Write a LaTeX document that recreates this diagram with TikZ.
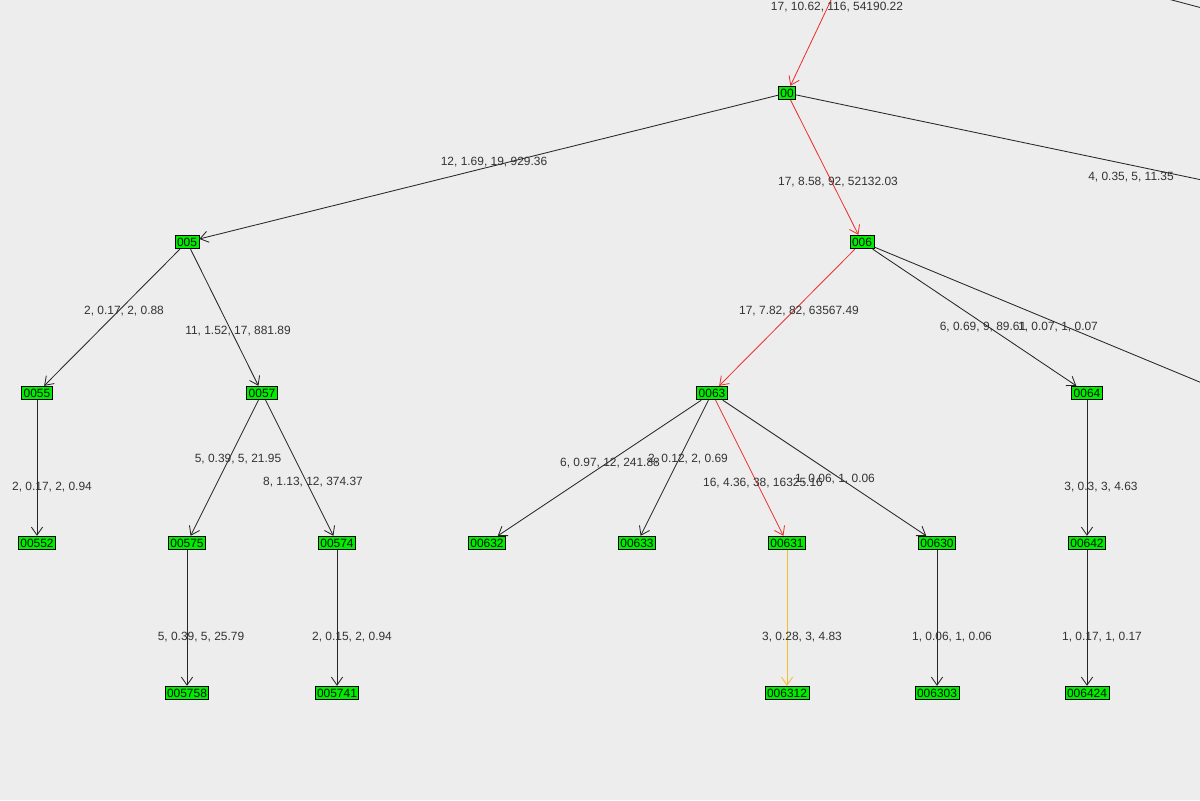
\documentclass[tikz,border=0pt]{standalone}
\usepackage{fontspec}
\setmainfont{Liberation Sans}
\usetikzlibrary{arrows.meta}
\definecolor{gold}{RGB}{240,190,50}

\begin{document}
\begin{tikzpicture}[x = 0.025cm, y = -0.025cm, line width = 0.6pt,
	 every node/.style = {font = \fontsize{8.5}{10}\selectfont, text = black!80},
	 vertex/.style = {draw = black, fill = green!93!black!100, inner xsep = 1.4pt, inner ysep = 1.8pt, text = black!80!green!30!black},
	 edge/.style = {draw = black!85, -{Straight Barb[angle = 70:7pt]}},
	 hot/.style = {draw = red!90!black!80, -{Straight Barb[angle = 70:7pt]}},
	 warm/.style = {draw = gold, -{Straight Barb[angle = 70:7pt]}},
	 weight/.style = {fill = none, inner sep = 0pt}]
	 \fill[black!7] (0, 0) rectangle (1200, 800);
	 \useasboundingbox (0, 0) rectangle (1200, 800);
	 
	 % tree levels
	 \node[vertex] (n00) at (787, 93) {00};
	 \node[vertex] (n005) at (187, 242) {005};
	 \node[vertex] (n006) at (862, 242) {006};
	 \node[vertex] (n0055) at (37, 393) {0055};
	 \node[vertex] (n0057) at (262, 393) {0057};
	 \node[vertex] (n0063) at (712, 393) {0063};
	 \node[vertex] (n0064) at (1087, 393) {0064};
	 \node[vertex] (n00552) at (37, 543) {00552};
	 \node[vertex] (n00575) at (187, 543) {00575};
	 \node[vertex] (n00574) at (337, 543) {00574};
	 \node[vertex] (n00632) at (487, 543) {00632};
	 \node[vertex] (n00633) at (637, 543) {00633};
	 \node[vertex] (n00631) at (787, 543) {00631};
	 \node[vertex] (n00630) at (937, 543) {00630};
	 \node[vertex] (n00642) at (1087, 543) {00642};
	 \node[vertex] (n005758) at (187, 693) {005758};
	 \node[vertex] (n005741) at (337, 693) {005741};
	 \node[vertex] (n006312) at (787, 693) {006312};
	 \node[vertex] (n006303) at (937, 693) {006303};
	 \node[vertex] (n006424) at (1087, 693) {006424};
	 
	 % edges leaving the frame
	 \coordinate (top) at (832, -2);
	 \coordinate (farright) at (1202, 180);
	 \coordinate (farlow) at (1202, 383);
	 \coordinate (topright) at (1168, -1);
	 \coordinate (topedge) at (1202, 8);
	 \draw[hot] (top) -- (n00);
	 \draw[black!85] (n00) -- (farright);
	 \draw[black!85] (n006) -- (farlow);
	 \draw[black!85] (topright) -- (topedge);
	 
	 \draw[edge] (n00) -- (n005);
	 \draw[hot] (n00) -- (n006);
	 \draw[edge] (n005) -- (n0055);
	 \draw[edge] (n005) -- (n0057);
	 \draw[hot] (n006) -- (n0063);
	 \draw[edge] (n006) -- (n0064);
	 \draw[edge] (n0055) -- (n00552);
	 \draw[edge] (n0057) -- (n00575);
	 \draw[edge] (n0057) -- (n00574);
	 \draw[edge] (n0063) -- (n00632);
	 \draw[edge] (n0063) -- (n00633);
	 \draw[hot] (n0063) -- (n00631);
	 \draw[edge] (n0063) -- (n00630);
	 \draw[edge] (n0064) -- (n00642);
	 \draw[edge] (n00575) -- (n005758);
	 \draw[edge] (n00574) -- (n005741);
	 \draw[warm] (n00631) -- (n006312);
	 \draw[edge] (n00630) -- (n006303);
	 \draw[edge] (n00642) -- (n006424);
	 
	 % edge weights
	 \node[weight] (w1) at (837, 7) {17, 10.62, 116, 54190.22};
	 \node[weight] (w2) at (1131, 177) {4, 0.35, 5, 11.35};
	 \node[weight] (w3) at (494, 162) {12, 1.69, 19, 929.36};
	 \node[weight] (w4) at (838, 182) {17, 8.58, 92, 52132.03};
	 \node[weight] (w5) at (124, 311) {2, 0.17, 2, 0.88};
	 \node[weight] (w6) at (238, 331) {11, 1.52, 17, 881.89};
	 \node[weight] (w7) at (799, 311) {17, 7.82, 82, 63567.49};
	 \node[weight] (w8) at (983, 327) {6, 0.69, 9, 89.61};
	 \node[weight] (w9) at (1058, 327) {1, 0.07, 1, 0.07};
	 \node[weight] (w10) at (52, 487) {2, 0.17, 2, 0.94};
	 \node[weight] (w11) at (238, 459) {5, 0.39, 5, 21.95};
	 \node[weight] (w12) at (313, 482) {8, 1.13, 12, 374.37};
	 \node[weight] (w13) at (610, 463) {6, 0.97, 12, 241.88};
	 \node[weight] (w14) at (688, 459) {2, 0.12, 2, 0.69};
	 \node[weight] (w15) at (763, 483) {16, 4.36, 38, 16325.16};
	 \node[weight] (w16) at (835, 479) {1, 0.06, 1, 0.06};
	 \node[weight] (w17) at (1101, 487) {3, 0.3, 3, 4.63};
	 \node[weight] (w18) at (201, 637) {5, 0.39, 5, 25.79};
	 \node[weight] (w19) at (352, 637) {2, 0.15, 2, 0.94};
	 \node[weight] (w20) at (802, 637) {3, 0.28, 3, 4.83};
	 \node[weight] (w21) at (952, 637) {1, 0.06, 1, 0.06};
	 \node[weight] (w22) at (1102, 637) {1, 0.17, 1, 0.17};
\end{tikzpicture}
\end{document}
